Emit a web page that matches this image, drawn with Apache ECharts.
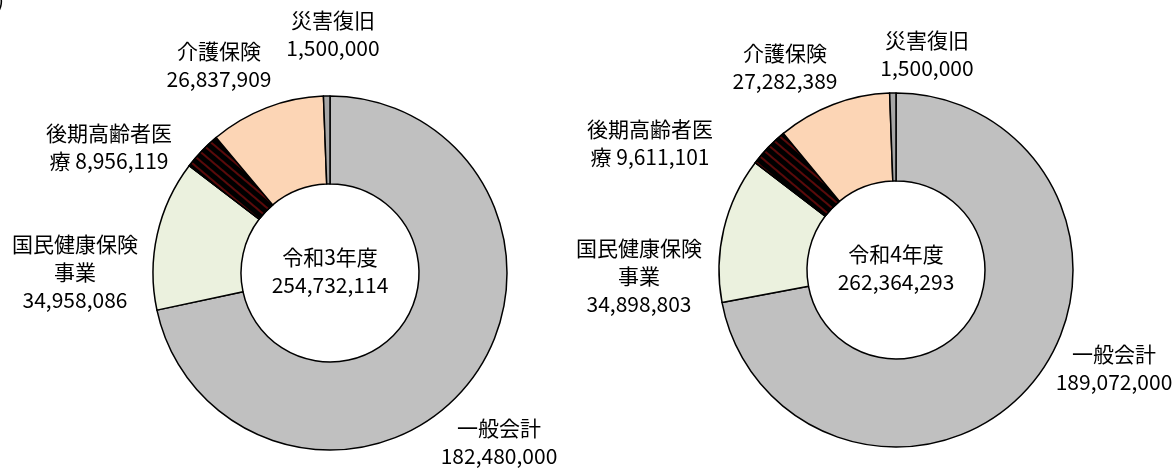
<!DOCTYPE html>
<html>
<head>
<meta charset="utf-8">
<script src="https://cdn.jsdelivr.net/npm/echarts@6/dist/echarts.min.js"></script>
<style>
  html, body { margin: 0; padding: 0; background: #fff; }
  #chart { width: 1174px; height: 468px; }
</style>
</head>
<body>
<div id="chart"></div>
<script>
// 会計別予算額（円）
const NAMES = ['一般会計', '国民健康保険事業', '後期高齢者医療', '介護保険', '災害復旧']
const R3_VALUES = [182480000, 34958086, 8956119, 26837909, 1500000]
const R4_VALUES = [189072000, 34898803, 9611101, 27282389, 1500000]
const YEARS = ['令和3年度', '令和4年度']
// how Excel wrapped each category label
const LABEL_PREFIX = ['一般会計\n', '国民健康保険\n事業\n', '後期高齢者医\n療 ', '介護保険\n', '災害復旧\n']

const COLORS = ['#C0C0C0', '#EBF1DE', '#000000', '#FCD5B5', '#A6A6A6']
const FONT = '"Noto Sans CJK JP", "Noto Sans", sans-serif'
const CENTERS = [[330, 273], [896, 270]]
const RADIUS = [89, 177]
// label block centres per chart, per category
const LABEL_POS = [
  [[499, 442], [75, 272], [109, 147], [219, 65], [333, 34]],
  [[1114, 368], [639, 276], [650, 143], [785, 67], [927, 54]],
]

const fmt = v => v.toLocaleString('en-US')

function buildSeries(values, idx) {
  return {
    type: 'pie',
    center: CENTERS[idx],
    radius: RADIUS,
    startAngle: 90,
    clockwise: true,
    avoidLabelOverlap: false,
    silent: true,
    data: NAMES.map((name, i) => ({
      name,
      value: values[i],
      itemStyle: {
        color: COLORS[i],
        decal: i === 2 ? {
          symbol: 'rect',
          symbolSize: 1,
          color: '#5A0A0A',
          dashArrayX: [1, 0],
          dashArrayY: [2, 5],
          rotation: 0.7,
        } : null,
      },
    })),
    itemStyle: { borderColor: '#000', borderWidth: 1.5 },
    label: {
      show: true,
      position: 'outside',
      color: '#000',
      fontFamily: FONT,
      fontSize: 21,
      lineHeight: 28,
      formatter: p => LABEL_PREFIX[p.dataIndex] + fmt(p.value),
    },
    labelLine: { show: false },
    labelLayout: p => {
      const [x, y] = LABEL_POS[idx][p.dataIndex]
      return { x, y, align: 'center', verticalAlign: 'middle' }
    },
  }
}

const chart = echarts.init(document.getElementById('chart'), null, { renderer: 'canvas' })
const allValues = [R3_VALUES, R4_VALUES]

chart.setOption({
  backgroundColor: '#fff',
  animation: false,
  series: allValues.map((vals, idx) => buildSeries(vals, idx)),
  graphic: [
    ...allValues.map((vals, idx) => ({
      type: 'text',
      x: CENTERS[idx][0],
      y: CENTERS[idx][1] - 2,
      style: {
        text: YEARS[idx] + '\n' + fmt(vals.reduce((a, b) => a + b, 0)),
        align: 'center',
        verticalAlign: 'middle',
        fontFamily: FONT,
        fontSize: 21,
        lineHeight: 28,
        fill: '#000',
      },
    })),
    // stray bracket left over from the cropped heading
    {
      type: 'text',
      x: -3,
      y: -10,
      style: { text: ')', fontFamily: FONT, fontSize: 21, fill: '#000' },
    },
  ],
})
</script>
</body>
</html>
